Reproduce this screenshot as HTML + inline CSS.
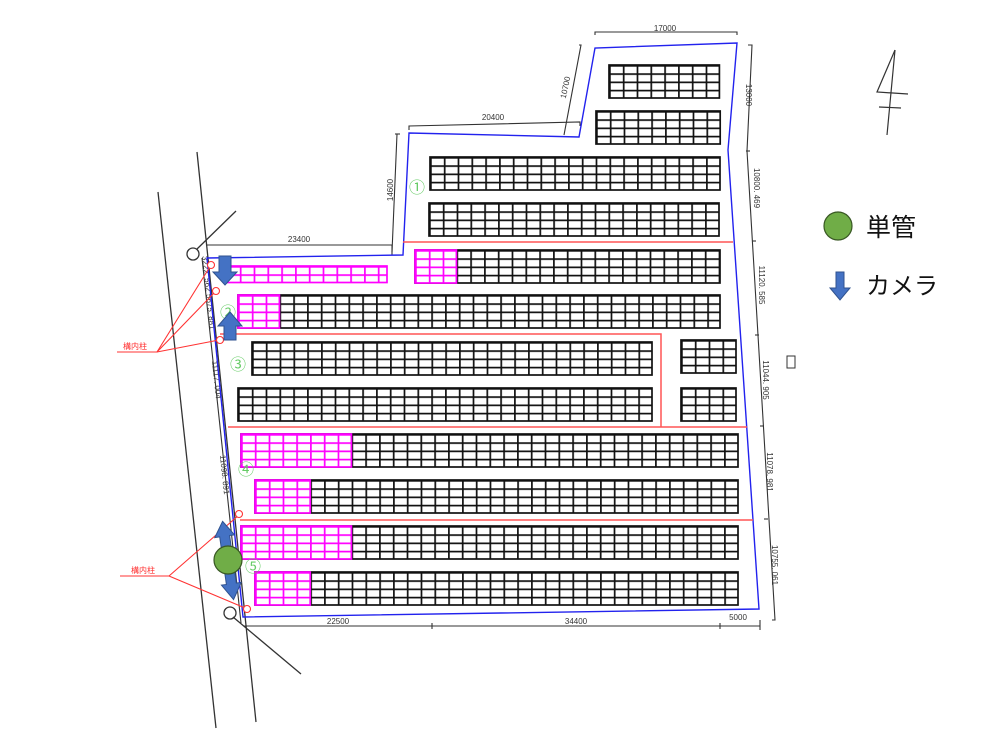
<!DOCTYPE html>
<html><head><meta charset="utf-8"><style>
html,body{margin:0;padding:0;background:#fff;}
svg{display:block;}
text{font-family:"Liberation Sans","Noto Sans CJK JP",sans-serif;}
</style></head><body>
<svg width="1000" height="750" viewBox="0 0 1000 750" xmlns="http://www.w3.org/2000/svg">
<defs>
<pattern id="pb" patternUnits="userSpaceOnUse" width="13.8" height="8.25"><path d="M0 0.8H13.8M0.9 0V8.25" stroke="#111" stroke-width="1.7" fill="none"/></pattern>
<pattern id="pm" patternUnits="userSpaceOnUse" width="13.8" height="8.25"><rect width="13.8" height="8.25" fill="#fff"/><path d="M0 0.8H13.8M0.9 0V8.25" stroke="#f0f" stroke-width="1.7" fill="none"/></pattern>
</defs>
<rect width="1000" height="750" fill="#fff"/>

<!-- roads -->
<g stroke="#333" stroke-width="1.3" fill="none">
<line x1="158" y1="192" x2="216" y2="728"/>
<line x1="197" y1="152" x2="256" y2="722"/>
<circle cx="193" cy="254" r="6"/>
<line x1="197" y1="249" x2="236" y2="211"/>
<circle cx="230" cy="613" r="6"/>
<line x1="233" y1="617" x2="301" y2="674"/>
</g>

<!-- dimension lines -->
<g stroke="#333" stroke-width="1.1" fill="none">
<polyline points="206,245 392,245 392,255"/>
<line x1="202" y1="258" x2="241" y2="623"/>
<line x1="244" y1="626" x2="760" y2="626"/>
<line x1="432" y1="623" x2="432" y2="629"/>
<line x1="720" y1="623" x2="720" y2="629"/>
<line x1="760" y1="620" x2="760" y2="630"/>
<polyline points="397,134 392,252"/>
<line x1="395" y1="134" x2="400" y2="134"/>
<polyline points="409,130 409,126 580,122 580,126"/>
<polyline points="564,135 581,45 579,45"/>
<polyline points="595,35 595,32 737,32 737,35"/>
<polyline points="748,45 752,45 747,151 775,620 772,620"/>
<line x1="746" y1="151" x2="750" y2="151"/>
<line x1="752" y1="241" x2="756" y2="241"/>
<line x1="755" y1="335" x2="759" y2="335"/>
<line x1="760" y1="426" x2="764" y2="426"/>
<line x1="764" y1="519" x2="768" y2="519"/>
</g>
<g font-size="8" fill="#333">
<text x="299" y="242" text-anchor="middle">23400</text>
<text x="493" y="120" text-anchor="middle">20400</text>
<text x="665" y="31" text-anchor="middle">17000</text>
<text x="338" y="624" text-anchor="middle">22500</text>
<text x="576" y="624" text-anchor="middle">34400</text>
<text x="738" y="620" text-anchor="middle">5000</text>
<text transform="translate(393,190) rotate(-90)" text-anchor="middle">14600</text>
<text transform="translate(568,88) rotate(-78)" text-anchor="middle">10700</text>
<text transform="translate(746,95) rotate(90)" text-anchor="middle">13000</text>
<text transform="translate(754,188) rotate(90)" text-anchor="middle">10800. 469</text>
<text transform="translate(759,285) rotate(90)" text-anchor="middle">11120. 585</text>
<text transform="translate(763,380) rotate(90)" text-anchor="middle">11044. 905</text>
<text transform="translate(767,472) rotate(90)" text-anchor="middle">11078. 981</text>
<text transform="translate(772,565) rotate(90)" text-anchor="middle">10755. 061</text>
<text transform="translate(204,274) rotate(84)" text-anchor="middle">3222. 562</text>
<text transform="translate(208,312) rotate(84)" text-anchor="middle">5675. 881</text>
<text transform="translate(214,380) rotate(84)" text-anchor="middle">11117. 004</text>
<text transform="translate(222,475) rotate(84)" text-anchor="middle">11098. 891</text>
</g>
<rect x="787" y="356" width="8" height="12" fill="none" stroke="#333" stroke-width="1"/>

<!-- boundary -->
<polygon points="207,258 403,255 409,133 579,137 595,48 737,43 728,150 759,609 243,617" fill="none" stroke="#2222ee" stroke-width="1.4"/>

<!-- red lines -->
<g stroke="#f55" stroke-width="1.5" fill="none">
<line x1="403" y1="242" x2="733" y2="242"/>
<polyline points="220,334 661,334 661,427"/>
<line x1="228" y1="427" x2="747" y2="427"/>
<line x1="240" y1="520" x2="753" y2="520"/>
</g>

<!-- arrays -->
<g stroke-width="1.7">
<svg x="609" y="65" width="110.4" height="33"><rect width="100%" height="100%" fill="url(#pb)"/></svg>
<rect x="609" y="65" width="110.4" height="33" fill="none" stroke="#111"/>
<svg x="596" y="111" width="124.2" height="33"><rect width="100%" height="100%" fill="url(#pb)"/></svg>
<rect x="596" y="111" width="124.2" height="33" fill="none" stroke="#111"/>
<svg x="430" y="157" width="290" height="33"><rect width="100%" height="100%" fill="url(#pb)"/></svg>
<rect x="430" y="157" width="290" height="33" fill="none" stroke="#111"/>
<svg x="429" y="203" width="290" height="33"><rect width="100%" height="100%" fill="url(#pb)"/></svg>
<rect x="429" y="203" width="290" height="33" fill="none" stroke="#111"/>

<svg x="415" y="250" width="305" height="33"><rect width="100%" height="100%" fill="url(#pb)"/></svg>
<rect x="415" y="250" width="305" height="33" fill="none" stroke="#111"/>
<svg x="415" y="250" width="41.4" height="33"><rect width="100%" height="100%" fill="url(#pm)"/></svg>
<rect x="415" y="250" width="41.4" height="33" fill="none" stroke="#f0f"/>

<svg x="226" y="266" width="161" height="16.5"><rect width="100%" height="100%" fill="url(#pm)"/></svg>
<rect x="226" y="266" width="161" height="16.5" fill="none" stroke="#f0f"/>

<svg x="238" y="295" width="482" height="33"><rect width="100%" height="100%" fill="url(#pb)"/></svg>
<rect x="238" y="295" width="482" height="33" fill="none" stroke="#111"/>
<svg x="238" y="295" width="41.4" height="33"><rect width="100%" height="100%" fill="url(#pm)"/></svg>
<rect x="238" y="295" width="41.4" height="33" fill="none" stroke="#f0f"/>

<svg x="252" y="342" width="400" height="33"><rect width="100%" height="100%" fill="url(#pb)"/></svg>
<rect x="252" y="342" width="400" height="33" fill="none" stroke="#111"/>
<svg x="238" y="388" width="414" height="33"><rect width="100%" height="100%" fill="url(#pb)"/></svg>
<rect x="238" y="388" width="414" height="33" fill="none" stroke="#111"/>
<svg x="681" y="340" width="55" height="33"><rect width="100%" height="100%" fill="url(#pb)"/></svg>
<rect x="681" y="340" width="55" height="33" fill="none" stroke="#111"/>
<svg x="681" y="388" width="55" height="33"><rect width="100%" height="100%" fill="url(#pb)"/></svg>
<rect x="681" y="388" width="55" height="33" fill="none" stroke="#111"/>

<svg x="241" y="434" width="497" height="33"><rect width="100%" height="100%" fill="url(#pb)"/></svg>
<rect x="241" y="434" width="497" height="33" fill="none" stroke="#111"/>
<svg x="241" y="434" width="110.4" height="33"><rect width="100%" height="100%" fill="url(#pm)"/></svg>
<rect x="241" y="434" width="110.4" height="33" fill="none" stroke="#f0f"/>

<svg x="255" y="480" width="483" height="33"><rect width="100%" height="100%" fill="url(#pb)"/></svg>
<rect x="255" y="480" width="483" height="33" fill="none" stroke="#111"/>
<svg x="255" y="480" width="55.2" height="33"><rect width="100%" height="100%" fill="url(#pm)"/></svg>
<rect x="255" y="480" width="55.2" height="33" fill="none" stroke="#f0f"/>

<svg x="241" y="526" width="497" height="33"><rect width="100%" height="100%" fill="url(#pb)"/></svg>
<rect x="241" y="526" width="497" height="33" fill="none" stroke="#111"/>
<svg x="241" y="526" width="110.4" height="33"><rect width="100%" height="100%" fill="url(#pm)"/></svg>
<rect x="241" y="526" width="110.4" height="33" fill="none" stroke="#f0f"/>

<svg x="255" y="572" width="483" height="33"><rect width="100%" height="100%" fill="url(#pb)"/></svg>
<rect x="255" y="572" width="483" height="33" fill="none" stroke="#111"/>
<svg x="255" y="572" width="55.2" height="33"><rect width="100%" height="100%" fill="url(#pm)"/></svg>
<rect x="255" y="572" width="55.2" height="33" fill="none" stroke="#f0f"/>
</g>

<!-- circled numbers -->
<g fill="#6c6" font-size="16">
<text x="417" y="193" text-anchor="middle">①</text>
<text x="228" y="318" text-anchor="middle">②</text>
<text x="238" y="370" text-anchor="middle">③</text>
<text x="246" y="475" text-anchor="middle">④</text>
<text x="253" y="572" text-anchor="middle">⑤</text>
</g>

<!-- leader lines -->
<g stroke="#f33" stroke-width="1.1" fill="none">
<polyline points="117,352 157,352 211,265"/>
<line x1="157" y1="352" x2="216" y2="291"/>
<line x1="157" y1="352" x2="219" y2="340"/>
<polyline points="120,576 169,576 239,515"/>
<line x1="169" y1="576" x2="245" y2="608"/>
<circle cx="211" cy="265" r="3.5" fill="#fff"/>
<circle cx="216" cy="291" r="3.5" fill="#fff"/>
<circle cx="220" cy="340" r="3.5" fill="#fff"/>
<circle cx="239" cy="514" r="3.5" fill="#fff"/>
<circle cx="247" cy="609" r="3.5" fill="#fff"/>
</g>
<g fill="#f33" font-size="8">
<text x="123" y="349">構内柱</text>
<text x="131" y="573">構内柱</text>
</g>

<!-- cameras -->
<g fill="#4472c4" stroke="#2f528f" stroke-width="1">
<polygon points="219,256 231,256 231,272 237,272 225,285 213,272 219,272"/>
<polygon points="230,312 242,326 236,326 236,340 224,340 224,326 218,326"/>
<g transform="rotate(-8 228 560)">
<polygon points="228,521 238,536 233,536 233,584 238,584 228,600 218,584 223,584 223,536 218,536"/>
</g>
</g>
<circle cx="228" cy="560" r="14" fill="#70ad47" stroke="#385723" stroke-width="1.2"/>

<!-- north -->
<g stroke="#333" stroke-width="1.2" fill="none">
<line x1="895" y1="50" x2="887" y2="135"/>
<polyline points="895,50 877,92 908,94"/>
<line x1="879" y1="107" x2="901" y2="108"/>
</g>

<!-- legend -->
<circle cx="838" cy="226" r="14" fill="#70ad47" stroke="#385723" stroke-width="1.2"/>
<text x="866" y="236" font-size="25" fill="#111">単管</text>
<polygon points="836,272 844,272 844,288 850,288 840,300 830,288 836,288" fill="#4472c4" stroke="#2f528f" stroke-width="1"/>
<text x="866" y="294" font-size="24" fill="#111">カメラ</text>
</svg>
</body></html>
